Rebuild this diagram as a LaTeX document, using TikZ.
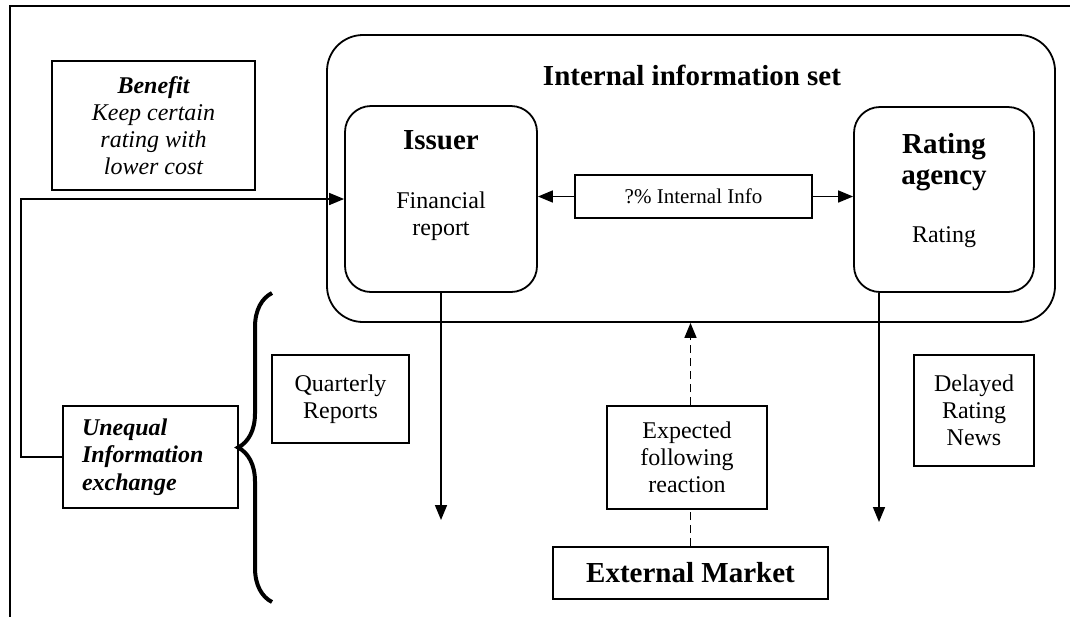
\documentclass[tikz,border=0pt]{standalone}
\usepackage{fontspec}
\setmainfont{Liberation Serif}
\usetikzlibrary{arrows.meta,decorations.pathreplacing}

\begin{document}
\begin{tikzpicture}[x=0.5pt, y=-0.5pt,
    box/.style={draw, line width=0.9pt, inner sep=0pt, align=center, font=\fontsize{12}{13.6}\selectfont},
    roundbox/.style={box, rounded corners=13pt},
    headfont/.style={font=\fontsize{14.5}{15.5}\selectfont\bfseries},
    arrow/.style={-{Triangle[length=7.5pt,width=6pt]}, line width=0.8pt}]
    \useasboundingbox (0,0) rectangle (1070,617);
    % page frame
    \draw[line width=0.8pt] (1070,6) -- (10,6) -- (10,617);

    % internal information set
    \node[box, rounded corners=18pt, minimum width=364pt, minimum height=143.5pt] (internal) at (691,178.5) {};
    \node[headfont, anchor=base] (internaltitle) at (692,85) {Internal information set};
    \node[roundbox, minimum width=96pt, minimum height=93pt] (issuer) at (441,199) {};
    \node[headfont, anchor=base] (issuerhead) at (441,149) {Issuer};
    \node[align=center, inner sep=0pt, anchor=north, font=\fontsize{12}{13.6}\selectfont] (issuertext) at (441,191.5) {Financial\\report};
    \node[roundbox, minimum width=90pt, minimum height=92.5pt] (rating) at (944,199.5) {};
    \node[headfont, align=center, inner sep=0pt, anchor=north] (ratinghead) at (944,133) {Rating\\agency};
    \node[inner sep=0pt, anchor=base, font=\fontsize{12}{13.6}\selectfont] (ratingtext) at (944,242) {Rating};
    \node[box, font=\fontsize{10.5}{12}\selectfont, minimum width=118.5pt, minimum height=21.5pt] (info) at (693.5,196.5) {?\% Internal Info};

    % side boxes
    \node[box, minimum width=101.5pt, minimum height=64.5pt, font=\fontsize{12}{13.6}\selectfont\itshape] (benefit) at (153.5,125.5) {\textbf{Benefit}\\Keep certain\\rating with\\lower cost};
    \node[box, minimum width=87.5pt, minimum height=51pt, text width=68.5pt, align=left, font=\fontsize{12}{13.75}\selectfont\bfseries\itshape] (unequal) at (150.5,457) {Unequal\\Information\\exchange};
    \node[box, minimum width=68.5pt, minimum height=44pt] (quarterly) at (340.5,399) {Quarterly\\Reports};
    \node[box, minimum width=80pt, minimum height=51.5pt] (expected) at (687,457.5) {Expected\\following\\reaction};
    \node[box, headfont, minimum width=137.5pt, minimum height=26pt] (market) at (690.5,573) {External Market};
    \node[box, minimum width=60pt, minimum height=55.5pt] (delayed) at (974,410.5) {Delayed\\Rating\\News};

    \coordinate (reportend) at (441,520);
    \coordinate (newsend) at (879,522);

    % connectors
    \draw[arrow] (info.west) -- (info.west -| issuer.east);
    \draw[arrow] (info.east) -- (info.east -| rating.west);
    \draw[arrow] (unequal.west) -- ++(-41,0) |- (issuer.west);
    \draw[arrow] (issuer.south) -- (reportend);
    \draw[arrow] (newsend |- rating.south) -- (newsend);
    \draw[line width=0.8pt, dash pattern=on 4pt off 2.5pt] (market.north) -- (market.north |- expected.south);
    \draw[arrow, dash pattern=on 4pt off 2.5pt] (market.north |- expected.north) -- (market.north |- internal.south);
    \draw[line width=2pt, decorate, decoration={brace, amplitude=17pt}] (272,602) -- (272,293);
\end{tikzpicture}
\end{document}
